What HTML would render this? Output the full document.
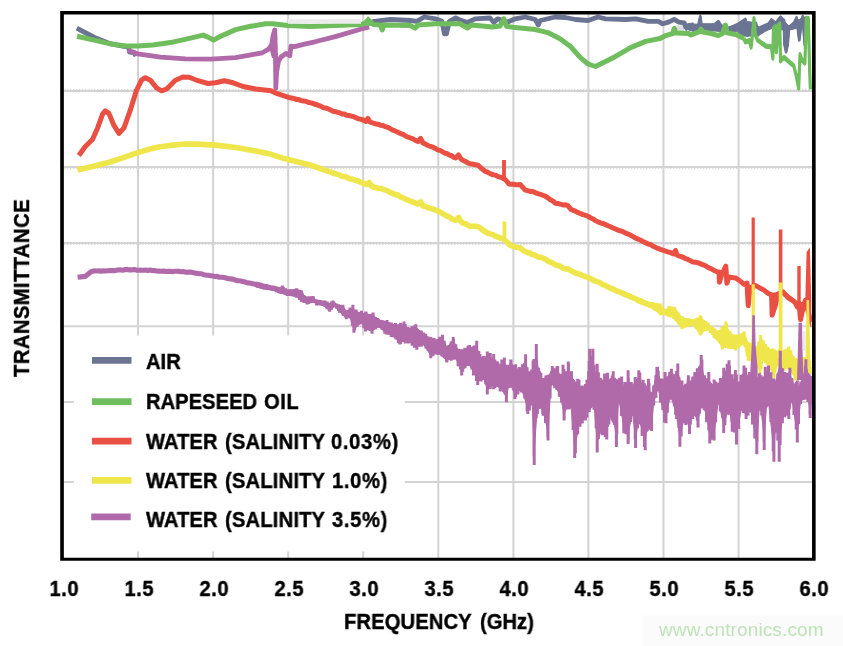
<!DOCTYPE html><html><head><meta charset="utf-8"><title>Transmittance vs Frequency</title><style>
html,body{margin:0;padding:0;background:#fff;}
body{width:843px;height:646px;position:relative;overflow:hidden;font-family:"Liberation Sans",sans-serif;color:#000;}
.t,.wm{will-change:transform;}
.t{position:absolute;font-weight:bold;font-size:21.2px;line-height:20px;white-space:nowrap;transform:scaleX(0.953);transform-origin:0 0;-webkit-text-stroke:0.4px #000;}
.tick{width:60px;text-align:center;top:579.1px;letter-spacing:0.5px;text-indent:0.5px;transform-origin:50% 0;}
.wm{position:absolute;font-size:19px;letter-spacing:0.12px;line-height:20px;color:#bfe3b8;white-space:nowrap;left:659px;top:620.2px;}
</style></head><body>
<svg width="843" height="646" viewBox="0 0 843 646" style="position:absolute;left:0;top:0">
<rect x="0" y="0" width="843" height="646" fill="#fff"/>
<rect x="642.5" y="615.3" width="201" height="31" fill="#fbfbfb"/>
<line x1="138.0" y1="13" x2="138.0" y2="559" stroke="#d3d3d3" stroke-width="2"/>
<line x1="213.1" y1="13" x2="213.1" y2="559" stroke="#d3d3d3" stroke-width="2"/>
<line x1="288.2" y1="13" x2="288.2" y2="559" stroke="#d3d3d3" stroke-width="2"/>
<line x1="363.2" y1="13" x2="363.2" y2="559" stroke="#d3d3d3" stroke-width="2"/>
<line x1="438.3" y1="13" x2="438.3" y2="559" stroke="#d3d3d3" stroke-width="2"/>
<line x1="513.4" y1="13" x2="513.4" y2="559" stroke="#d3d3d3" stroke-width="2"/>
<line x1="588.4" y1="13" x2="588.4" y2="559" stroke="#d3d3d3" stroke-width="2"/>
<line x1="663.5" y1="13" x2="663.5" y2="559" stroke="#d3d3d3" stroke-width="2"/>
<line x1="738.6" y1="13" x2="738.6" y2="559" stroke="#d3d3d3" stroke-width="2"/>
<line x1="62" y1="91" x2="814" y2="91" stroke="#d3d3d3" stroke-width="2"/>
<line x1="62" y1="167" x2="814" y2="167" stroke="#d3d3d3" stroke-width="2"/>
<line x1="62" y1="243.1" x2="814" y2="243.1" stroke="#d3d3d3" stroke-width="2"/>
<line x1="62" y1="326.2" x2="814" y2="326.2" stroke="#d3d3d3" stroke-width="2"/>
<line x1="62" y1="402" x2="814" y2="402" stroke="#d3d3d3" stroke-width="2"/>
<line x1="62" y1="482.1" x2="814" y2="482.1" stroke="#d3d3d3" stroke-width="2"/>
<line x1="64" y1="89.5" x2="812" y2="89.5" stroke="#dedede" stroke-width="1" stroke-dasharray="1.5 1.5"/>
<line x1="64" y1="168.5" x2="812" y2="168.5" stroke="#dedede" stroke-width="1" stroke-dasharray="1.5 1.5"/>
<line x1="64" y1="244.6" x2="812" y2="244.6" stroke="#dedede" stroke-width="1" stroke-dasharray="1.5 1.5"/>
<rect x="675" y="25.5" width="9" height="6" fill="#dcdcdc"/>
<rect x="74" y="335.5" width="331" height="216" fill="#fff"/>
<g transform="scale(1.0,1)"><polyline points="76.8,28.2 85.0,32.5 96.4,38.3 110.2,43.7 124.0,46.3 128.5,47.0 129.5,52.0 134.0,52.5 136.0,56.0" fill="none" stroke="#6b7492" stroke-width="4.8" stroke-linejoin="round" stroke-linecap="butt" /></g>
<g transform="scale(1.0,1)"><polyline points="372.0,22.0 374.1,21.3 390.5,19.5 410.5,20.5 416.8,21.3 424.3,17.0 435.6,18.8 441.9,21.3 444.4,33.8 446.5,33.8 449.4,21.3 455.7,18.0 460.0,20.0 467.5,22.5 475.0,18.8 490.0,18.0 493.9,22.5 497.6,18.8 507.7,22.0 515.2,18.8 525.2,17.0 535.3,19.5 538.3,25.0 540.3,20.5 555.3,17.0 565.4,17.5 575.4,19.5 588.0,20.5 598.0,17.0 605.5,18.8 625.6,19.5 635.6,18.8 648.2,21.3 658.2,21.3 662.7,23.8 668.5,22.1 674.2,19.3 678.5,22.1 684.2,22.8 686.3,28.5" fill="none" stroke="#6b7492" stroke-width="4.8" stroke-linejoin="round" stroke-linecap="butt" /></g>
<g transform="scale(0.62,1)"><polyline points="1103.5,22.8 1106.9,28.5 1110.5,25.7 1117.3,24.9 1119.7,29.9 1126.5,25.7 1129.5,17.1 1131.1,25.7 1151.8,25.7 1158.7,22.1 1165.5,28.5 1174.7,29.2 1188.5,25.7 1202.3,20.0 1205.6,34.2 1210.5,34.2 1213.7,24.2 1219.4,24.0 1222.9,34.2 1225.2,28.5 1239.7,24.6 1244.2,20.4 1251.0,23.9 1258.9,17.7 1264.5,21.1 1265.6,44.8 1267.9,51.1 1270.2,44.8 1272.3,28.1 1280.2,23.9 1284.7,18.4 1286.9,28.1 1289.2,39.3 1291.3,28.1 1294.8,17.0 1298.2,44.8 1300.8,18.0" fill="none" stroke="#6b7492" stroke-width="4.8" stroke-linejoin="round" stroke-linecap="butt" /></g>
<polygon points="683.0,21.0 687.0,24.0 698.9,24.2 699.6,17.2 701.2,17.2 701.9,24.2 714.0,24.2 718.4,21.0 721.0,24.5 728.0,27.3 736.9,25.0 745.0,19.5 747.5,21.5 751.0,22.0 756.0,24.0 760.0,28.0 768.6,23.5 771.4,20.2 775.6,23.5 780.5,17.5 784.0,20.8 788.8,26.0 793.7,23.5 796.5,18.2 799.0,20.0 802.8,16.8 806.0,17.5 806.0,30.0 805.6,44.8 804.2,44.8 803.0,25.0 801.2,28.0 799.9,39.3 798.7,39.3 797.5,28.0 794.0,29.0 789.6,30.0 788.0,45.0 786.7,51.1 785.5,51.1 784.2,45.0 783.4,30.0 778.0,29.0 771.4,28.5 765.0,31.5 760.3,34.6 757.0,36.0 751.0,35.5 747.0,36.4 743.0,35.5 737.0,31.6 728.0,31.6 722.0,31.6 714.0,31.0 700.0,30.8 694.0,31.6 690.0,30.5 686.0,29.0 683.0,25.0" fill="#6b7492" stroke="#6b7492" stroke-width="1" stroke-linejoin="miter"/>
<g transform="scale(1.0,1)"><polyline points="127.7,50.1 137.8,53.9 160.4,57.2 185.4,58.9 210.5,59.2 235.6,57.7 255.0,54.2 262.4,52.8 268.6,49.1 271.7,44.8 273.0,36.0 274.8,30.0 275.6,57.0 275.8,88.0 276.6,72.0 278.5,61.0 281.0,57.0 286.0,53.4 289.8,55.7 291.0,46.2 294.6,46.6 304.5,44.1 315.0,41.8 335.3,36.6 360.4,29.2 369.2,27.0" fill="none" stroke="#b06aaa" stroke-width="4.8" stroke-linejoin="round" stroke-linecap="butt" /></g>
<polygon points="269.0,47.0 271.2,42.0 272.2,32.4 273.4,28.0 276.3,28.0 276.6,58.0 272.0,58.0" fill="#b06aaa"/>
<polygon points="273.6,56.0 276.6,56.0 278.2,60.0 281.0,57.0 279.6,63.0 278.2,69.0 277.5,89.5 274.4,89.5 273.8,70.0" fill="#b06aaa"/>
<g transform="scale(1.0,1)"><polyline points="77.0,36.2 96.4,40.6 110.2,43.9 126.5,45.9 137.8,45.9 152.8,45.1 170.4,42.6 190.5,38.1 203.0,35.1 208.0,37.1 213.5,40.1 220.6,36.3 235.6,29.6 250.7,26.3 265.7,23.8 272.5,23.8 287.6,25.6 310.2,26.6 335.3,25.4 360.4,24.6 364.5,23.6 367.7,20.5 371.0,22.5 373.5,24.5 380.4,25.1 382.2,30.0 384.0,25.1 410.5,25.6 415.0,28.1 418.1,25.1 435.6,23.8 460.0,23.8 467.5,28.0 471.3,25.0 492.6,27.0 500.0,26.0 503.9,18.8 506.4,26.3 515.2,27.6 535.3,29.6 547.8,32.6 560.4,38.9 570.4,46.4 580.4,57.7 588.0,64.0 595.5,66.5 603.0,62.7 615.5,56.4 630.6,47.6 645.7,41.4 660.0,38.5 665.7,35.6 672.8,33.5 674.2,28.5 676.0,33.0 688.5,33.5 691.0,35.0 699.9,31.4 700.8,29.0 703.0,32.0 711.2,33.5 718.4,35.6 722.5,33.5 725.5,25.0 726.9,32.8 736.9,34.9 744.0,38.5" fill="none" stroke="#6fbd5c" stroke-width="5.0" stroke-linejoin="round" stroke-linecap="butt" /></g>
<g transform="scale(0.62,1)"><polyline points="1200.0,38.5 1202.3,42.0 1208.1,40.5 1211.5,47.0 1213.7,34.2 1216.1,18.5 1218.4,35.1 1221.8,40.0 1235.3,46.2 1244.2,46.9 1246.5,58.1 1247.6,28.1 1251.0,26.7 1252.1,51.8 1255.5,25.3 1257.7,23.9 1258.9,60.8 1264.5,57.4 1280.2,65.7 1284.7,76.9 1288.1,88.0 1290.3,54.6 1293.7,60.2 1298.2,62.9 1300.5,18.4 1303.7,18.4 1306.0,72.7 1307.1,89.4" fill="none" stroke="#6fbd5c" stroke-width="5.2" stroke-linejoin="round" stroke-linecap="butt" /></g>
<polygon points="363.6,24 367.5,16.4 368.4,16.4 373.8,22 373.8,26 363.6,26" fill="#6fbd5c"/>
<rect x="288" y="19.2" width="73" height="4.6" fill="#ececec"/>
<g transform="scale(1.0,1)"><polyline points="78.8,155.5 85.1,146.7 92.6,139.2 97.6,127.9 102.6,114.1 105.2,110.9 108.9,113.4 113.9,125.4 119.0,133.4 124.0,127.9 130.2,110.4 136.5,90.3 141.5,80.2 145.3,77.7 150.3,80.2 156.6,87.8 161.6,90.8 166.6,89.0 175.4,80.2 182.9,77.0 189.2,77.2 198.0,80.7 208.0,83.5 215.5,82.8 224.3,80.7 233.1,82.8 243.1,86.5 255.7,89.0 271.0,90.8 275.1,92.8 290.1,97.8 292.3,98.2 294.6,98.6 296.8,99.6 299.0,99.6 301.3,100.6 303.5,101.0 305.7,101.3 308.0,102.3 310.2,102.8 312.5,103.2 314.8,104.3 317.0,104.8 319.3,105.6 321.6,106.7 323.9,107.9 326.2,108.1 328.5,109.0 330.7,110.1 333.0,111.2 335.3,111.6 337.6,112.4 339.9,112.9 342.1,114.1 344.4,113.9 346.7,115.3 349.0,115.5 351.3,116.1 353.6,116.7 355.8,117.6 358.1,118.7 360.4,119.1 363.2,120.0 366.0,121.5 367.9,118.5 370.0,122.0 372.6,122.9 375.1,123.7 377.7,124.2 380.3,125.2 382.8,125.5 385.4,126.7 387.7,127.3 390.0,128.5 392.2,129.9 394.5,130.7 396.8,131.7 399.1,132.9 401.4,133.8 403.7,134.7 405.9,136.2 408.2,137.2 410.5,138.0 413.0,138.9 415.5,140.4 418.0,141.5 420.6,138.5 423.0,143.0 425.5,144.1 428.0,145.5 430.6,146.5 433.1,147.2 435.6,148.5 437.8,150.0 440.1,150.3 442.3,151.6 444.5,153.0 446.8,153.5 449.0,154.8 451.2,155.5 453.5,157.1 455.7,158.0 458.5,155.0 461.0,159.0 463.2,160.4 465.5,161.5 467.8,162.9 470.0,163.8 472.5,164.0 475.1,164.8 477.6,165.0 480.1,167.2 482.6,169.3 485.1,171.3 487.6,172.2 490.1,173.5 492.6,174.6 495.1,175.1 497.6,176.3 500.1,177.1 504.0,178.5 506.4,180.8 508.9,183.9 511.2,184.2 513.4,184.3 515.7,184.8 517.9,184.7 520.2,184.6 522.7,187.2 525.2,190.1 527.7,190.6 530.2,191.5 532.8,191.5 535.3,192.6 537.8,193.6 540.3,194.3 542.8,195.3 545.3,196.3 547.8,197.7 550.3,199.8 552.8,201.0 555.3,203.2 557.8,203.5 560.3,204.1 562.9,205.0 565.4,204.8 567.9,205.7 571.0,209.5 573.4,210.4 575.8,211.4 578.2,212.7 580.6,213.6 583.0,214.6 585.4,215.2 587.9,216.3 590.4,217.7 593.0,218.9 595.5,220.6 598.0,221.9 600.5,222.8 603.0,223.5 605.5,224.6 608.0,225.7 610.5,226.7 613.0,228.0 615.5,229.0 618.0,230.1 620.5,230.9 623.0,231.7 625.6,233.1 628.1,234.1 630.6,235.3 633.1,236.6 635.6,238.2 638.2,239.2 640.7,240.3 643.2,241.7 645.7,242.8 648.1,244.0 650.6,244.5 653.0,246.3 655.5,247.3 657.9,248.4 660.4,249.4 662.8,250.2 665.5,251.1 668.1,252.0 670.8,252.7 673.5,254.0 675.5,250.5 677.0,255.0 679.2,256.1 681.5,256.6 683.7,257.6 686.0,258.7 688.2,259.6 690.5,260.8 692.7,261.9 695.5,262.2 698.4,262.9 701.2,264.1 703.8,265.1 706.4,266.3 708.9,267.8 711.5,268.8 714.1,270.5 716.5,271.6 719.0,272.0 719.4,282.2 721.5,275.0 725.8,266.2 726.9,283.3 729.0,276.9 732.2,277.5 735.4,277.9 738.3,279.7 741.1,281.9 744.0,284.3 747.0,283.0 748.2,305.7 750.0,288.0 752.5,286.6 755.1,285.4 758.0,286.9 761.0,288.6 763.7,289.9 766.4,292.1 769.0,293.8 771.7,295.0 772.1,315.3 775.5,305.0 778.0,294.0 780.4,292.9 782.8,291.8 785.8,295.0 788.8,298.2 792.0,300.0 795.2,302.5 797.3,307.0 799.0,303.0 800.5,319.6 803.5,306.0 805.5,300.0 808.0,310.6 810.6,322.0" fill="none" stroke="#e94f42" stroke-width="5.0" stroke-linejoin="round" stroke-linecap="butt" /></g>
<line x1="753.2" y1="217.5" x2="753.2" y2="290" stroke="#e94f42" stroke-width="3.2"/>
<line x1="780.6" y1="229.5" x2="780.6" y2="296" stroke="#e94f42" stroke-width="3.6"/>
<line x1="799" y1="266" x2="799" y2="306" stroke="#e94f42" stroke-width="3.4"/>
<line x1="504" y1="160" x2="504" y2="181" stroke="#e94f42" stroke-width="3.8"/>
<polygon points="746.3,282.0 751.0,286.0 749.6,300.0 748.6,306.0 747.6,306.0 746.8,300.0" fill="#e94f42"/>
<polygon points="769.0,293.0 779.0,292.0 777.0,303.0 774.0,312.0 773.0,316.0 771.3,316.0 770.3,306.0" fill="#e94f42"/>
<polygon points="796.0,302.0 804.5,302.0 803.0,311.0 801.3,320.0 799.6,320.0 798.3,311.0" fill="#e94f42"/>
<polygon points="783.0,290.0 796.0,300.0 796.0,306.0 783.0,296.0" fill="#e94f42"/>
<polygon points="805.2,304 806.6,252 809.9,247.5 811.2,300 811.2,328 808.5,322" fill="#e94f42"/>
<g transform="scale(1.0,1)"><polyline points="77.4,170.0 92.6,166.5 110.2,162.0 124.0,157.3 137.8,152.6 150.0,149.0 160.0,146.8 170.0,145.4 185.4,144.0 196.7,144.1 215.5,145.1 235.6,147.5 255.7,151.0 271.0,154.3 285.1,158.8 310.2,165.0 335.3,173.8 337.6,174.4 339.9,175.1 342.1,176.4 344.4,176.5 346.7,177.1 349.0,178.8 351.3,179.1 353.6,179.5 355.8,180.6 358.1,180.9 360.4,182.1 363.4,183.3 366.5,184.5 369.1,182.4 371.5,186.0 373.8,187.2 376.1,187.7 378.4,188.2 380.8,188.5 383.1,189.3 385.4,190.1 387.6,190.7 389.8,192.3 392.0,193.0 394.2,194.2 396.4,194.7 398.6,195.5 400.8,197.1 403.0,197.7 405.5,199.2 408.0,200.2 410.5,201.2 413.0,202.2 415.5,203.2 418.0,204.0 420.6,202.0 423.0,206.0 425.5,206.6 428.0,207.7 430.6,208.4 433.1,208.9 435.6,210.2 437.8,210.8 440.1,212.2 442.3,213.3 444.5,214.8 446.8,216.2 449.0,216.8 451.2,218.4 453.5,219.6 455.7,220.2 458.5,217.5 461.0,221.5 463.2,223.2 465.5,223.9 467.8,225.0 470.0,226.5 472.5,226.2 475.1,226.2 477.6,226.5 480.1,227.9 482.6,230.0 485.1,231.5 487.6,233.0 490.1,233.9 492.6,234.6 495.1,235.9 497.6,237.0 500.1,237.8 504.3,239.5 507.2,242.0 510.2,245.3 512.7,246.1 515.2,247.0 517.7,247.5 520.2,247.8 522.7,250.0 525.2,251.6 527.4,252.4 529.7,252.9 531.9,254.4 534.1,254.8 536.4,256.1 538.6,257.1 540.8,257.3 543.1,258.2 545.3,259.1 547.8,261.0 550.3,262.2 552.8,263.1 555.3,264.9 557.8,265.4 560.3,266.4 562.8,268.1 565.4,268.9 567.9,269.1 570.4,270.4 572.9,271.8 575.4,273.0 577.9,273.7 580.4,274.5 582.9,275.7 585.4,276.7 587.9,277.4 590.4,278.3 593.0,280.3 595.5,281.0 598.0,282.0 600.5,283.0 603.0,284.7 605.5,285.4 608.0,287.1 610.5,288.3 613.0,289.0 615.5,290.5 618.0,291.3 620.5,292.4 623.0,293.4 625.6,294.8 628.1,295.5 630.6,296.8 633.1,297.8 635.6,298.7 638.2,300.6 640.7,301.1 643.2,302.3 645.7,303.5 648.0,304.1 650.4,304.9 652.7,304.9 655.0,305.5" fill="none" stroke="#efe64b" stroke-width="5.6" stroke-linejoin="round" stroke-linecap="butt" /></g>
<path d="M600.0,281.0V284.7M602.3,282.4V285.8M604.6,283.8V286.9M606.9,284.8V287.7M609.2,285.6V289.0M611.5,286.9V290.4M613.8,287.9V291.3M616.1,289.0V292.5M618.4,289.8V293.2M620.7,290.8V294.3M623.0,291.9V295.6M625.3,292.7V296.4M627.6,293.5V297.7M629.9,294.6V298.4M632.2,295.4V299.5M634.5,296.2V300.7M636.8,297.2V301.9M639.1,297.7V303.3M641.4,298.7V304.5M643.7,300.3V305.0M646.0,300.7V306.1M648.3,302.4V306.4M650.6,302.9V307.4M652.9,303.5V308.8M655.2,303.4V311.1M657.5,303.3V311.7M659.8,303.9V314.0M662.1,306.9V315.3M664.4,309.1V315.2M666.7,308.4V315.7M669.0,306.8V316.9M671.3,306.6V316.0M673.6,307.7V318.9M675.9,309.8V320.7M678.2,312.8V324.3M680.5,316.3V326.6M682.8,317.6V327.0M685.1,318.3V327.6M687.4,318.6V326.1M689.7,318.6V326.5M692.0,319.3V325.2M694.3,319.6V326.6M696.6,317.7V329.4M698.9,318.3V332.3M701.2,316.4V334.3M703.5,320.1V331.3M705.8,320.9V330.9M708.1,323.4V329.6M710.4,326.1V333.0M712.7,327.5V334.8M715.0,328.6V338.4M717.3,330.7V340.5M719.6,329.9V343.1M721.9,327.0V346.6M724.2,326.2V347.8M726.5,323.5V346.8M728.8,331.3V348.4M731.1,334.0V347.7M733.4,335.4V347.9M735.7,336.3V348.7M738.0,335.1V348.3M740.3,334.2V346.3M742.6,333.5V344.6M744.9,335.7V346.8M747.2,342.0V356.6M749.5,343.2V358.8M751.8,343.5V361.2M754.1,345.9V362.7M756.4,347.4V363.6M758.7,341.4V368.3M761.0,338.4V369.0M763.3,340.3V359.2M765.6,344.8V363.4M767.9,346.7V365.5M770.2,349.2V367.5M772.5,351.7V371.6M774.8,349.6V372.5M777.1,351.4V365.8M779.4,349.7V366.6M781.7,350.0V367.4M784.0,350.7V369.1M786.3,349.1V367.7M788.6,348.2V367.2M790.9,350.2V373.1M793.2,355.8V374.5M795.5,358.0V378.1M797.8,359.8V376.7M800.1,359.3V376.9M802.4,358.6V374.6M804.7,358.0V369.2M807.0,358.5V361.0M809.3,360.3V368.9M600.0,281.0V283.0M615.5,288.5V290.5M630.6,294.5V296.8M640.0,298.0V301.0M650.0,302.4V305.1M660.7,303.5V309.4M665.0,310.0V313.0M669.0,306.0V311.5M674.6,306.7V313.8M682.0,316.3V322.7M692.7,319.5V322.7M700.2,315.2V325.4M707.7,322.7V326.4M718.3,331.2V337.3M725.8,321.6V335.6M730.0,331.2V340.6M735.4,334.5V342.5M744.0,331.2V338.1M748.2,341.9V351.5M753.0,342.0V352.2M756.8,346.2V355.8M760.6,335.1V353.7M765.3,344.1V354.0M772.8,348.3V362.2M780.5,349.4V358.8M788.8,346.2V357.9M795.2,357.9V369.1M804.8,356.9V363.9M600.0,285.0V283.0M615.5,292.5V290.5M630.6,299.0V296.8M640.0,304.0V301.0M650.0,307.8V305.1M660.7,315.2V309.4M671.4,317.4V311.9M682.0,329.1V322.7M692.7,325.9V322.7M700.2,335.5V325.4M707.7,330.2V326.4M714.1,337.7V332.8M722.6,349.4V337.5M735.4,350.5V342.5M744.0,345.1V338.1M748.2,361.1V351.5M751.4,361.1V351.5M756.8,365.4V355.8M760.0,375.0V355.9M763.2,361.1V350.6M769.6,369.7V358.1M773.9,378.2V363.3M778.1,365.4V357.2M783.5,371.8V360.0M788.8,369.7V357.9M795.2,380.4V369.1M797.3,380.4V369.0M803.7,376.1V366.6M806.9,361.1V359.6M810.2,374.0V366.9" fill="none" stroke="#efe64b" stroke-width="3.0"/>
<polygon points="600.0,281.4 615.5,288.9 630.6,294.9 640.0,298.6 650.0,302.9 660.7,304.7 665.0,310.6 669.0,307.1 674.6,308.1 682.0,317.6 692.7,320.1 700.2,317.2 707.7,323.4 718.3,332.4 725.8,324.4 730.0,333.1 735.4,336.1 744.0,332.6 748.2,343.8 753.0,344.0 756.8,348.1 760.6,338.8 765.3,346.1 772.8,351.1 780.5,351.3 788.8,348.6 795.2,360.1 804.8,358.3 810.6,361.4 810.2,372.6 806.9,360.8 803.7,374.2 797.3,378.1 795.2,378.1 788.8,367.3 783.5,369.4 778.1,363.8 773.9,375.2 769.6,367.4 763.2,359.0 760.0,371.2 756.8,363.5 751.4,359.2 748.2,359.2 744.0,343.7 735.4,348.9 722.6,347.0 714.1,336.7 707.7,329.4 700.2,333.5 692.7,325.3 682.0,327.8 671.4,316.3 660.7,314.0 650.0,307.3 640.0,303.4 630.6,298.6 615.5,292.1 600.0,284.6" fill="#efe64b" stroke="#efe64b" stroke-width="1" stroke-linejoin="miter"/>
<line x1="753.2" y1="284.3" x2="753.2" y2="345" stroke="#efe64b" stroke-width="3.2"/>
<line x1="780.6" y1="282.5" x2="780.6" y2="352" stroke="#efe64b" stroke-width="3.8"/>
<line x1="504.4" y1="221.5" x2="504.4" y2="242" stroke="#efe64b" stroke-width="3.8"/>
<polygon points="805.5,360 806.6,300 809,300 810.8,374 806,374" fill="#efe64b"/>
<g transform="scale(1.0,1)"><polyline points="77.6,277.2 85.1,276.4 91.4,271.4 93.8,270.9 96.1,271.0 98.5,270.9 100.8,271.1 103.2,270.9 105.5,271.0 107.8,270.8 110.2,270.6 112.7,270.6 115.2,270.6 117.7,270.0 120.2,269.8 122.7,270.2 125.2,269.6 127.4,269.4 129.7,269.9 131.9,269.9 134.1,269.5 136.4,270.1 138.6,270.2 140.8,270.1 143.1,270.2 145.3,270.1 147.6,270.5 149.9,270.0 152.1,270.5 154.4,270.6 156.7,271.0 159.0,271.1 161.3,271.2 163.6,271.1 165.8,271.5 168.1,271.4 170.4,271.4 172.6,271.6 174.9,271.3 177.1,271.3 179.3,271.4 181.6,271.7 183.8,271.6 186.0,272.2 188.3,272.1 190.5,272.1 192.7,272.6 194.9,273.0 197.2,273.4 199.4,273.7 201.6,273.7 203.8,274.7 206.1,275.1 208.3,275.3 210.5,275.7 212.7,276.1 215.0,276.5 217.2,276.4 219.4,277.3 221.7,277.3 223.9,277.5 226.1,278.0 228.4,278.7 230.6,278.9 232.8,279.1 235.1,280.0 237.3,280.7 239.5,280.8 241.8,281.2 244.0,281.7 246.2,282.4 248.5,282.9 250.7,283.2 253.0,283.8 255.2,284.3 257.5,284.4 259.7,284.9 262.0,285.5 264.2,286.4 266.5,286.5 268.7,287.3 271.0,287.7 273.4,288.0 275.7,288.7 278.1,289.5 280.4,290.5 282.8,291.2 285.1,291.7 287.6,292.2 290.1,292.3 292.6,292.8 295.1,293.1 297.6,293.5 300.3,294.7 303.0,296.0" fill="none" stroke="#b06aaa" stroke-width="5.1" stroke-linejoin="round" stroke-linecap="butt" /></g>
<path d="M258.0,283.6V287.9M260.3,284.0V288.6M262.6,284.0V288.4M264.9,285.0V289.5M267.2,285.1V289.6M269.5,286.2V289.9M271.8,286.2V290.3M274.1,287.0V290.8M276.4,287.7V292.3M278.7,288.2V293.0M281.0,286.9V293.8M283.3,286.8V293.7M285.6,288.2V294.9M287.9,290.4V295.0M290.2,289.6V295.9M292.5,289.6V295.8M294.8,289.4V296.4M297.1,288.7V296.7M299.4,289.8V299.9M301.7,292.3V301.9M304.0,295.1V302.9M306.3,296.9V303.2M308.6,296.8V304.1M310.9,296.5V302.8M313.2,296.8V302.2M315.5,299.3V303.2M317.8,299.7V304.9M320.1,300.0V305.1M322.4,300.9V305.5M324.7,301.4V306.8M327.0,301.6V309.3M329.3,302.8V310.9M331.6,301.6V309.8M333.9,301.8V307.2M336.2,304.2V308.5M338.5,304.6V311.1M340.8,304.9V312.8M343.1,306.8V316.0M345.4,310.1V317.6M347.7,310.1V317.9M350.0,307.6V318.5M352.3,307.8V325.7M354.6,310.0V330.2M356.9,311.5V326.7M359.2,312.3V324.6M361.5,310.8V323.3M363.8,313.2V328.2M366.1,311.5V330.0M368.4,314.6V329.9M370.7,315.2V331.1M373.0,315.4V330.3M375.3,317.0V329.4M377.6,318.0V327.8M379.9,319.9V328.0M382.2,320.2V330.0M384.5,321.1V331.4M386.8,321.6V334.7M389.1,322.8V334.7M391.4,322.5V336.8M393.7,324.5V337.2M396.0,325.2V339.4M398.3,324.4V343.0M400.6,322.7V343.9M402.9,325.3V340.6M405.2,323.9V343.5M407.5,326.9V342.3M409.8,330.0V342.8M412.1,326.3V345.7M414.4,325.4V347.8M416.7,328.1V346.2M419.0,330.2V346.8M421.3,330.6V346.7M423.6,332.6V345.2M425.9,334.6V348.6M428.2,336.5V351.0M430.5,337.0V355.1M432.8,337.7V356.3M435.1,339.7V353.8M437.4,339.0V354.4M439.7,336.8V353.5M442.0,338.5V356.6M444.3,340.7V358.3M446.6,347.2V361.3M448.9,345.7V359.7M451.2,341.5V360.8M453.5,338.9V359.7M455.8,344.2V358.5M458.1,350.1V366.3M460.4,349.2V369.5M462.7,351.5V371.8M465.0,347.8V368.2M467.3,348.3V365.9M469.6,345.0V365.5M471.9,347.9V369.5M474.2,345.4V375.2M476.5,346.2V380.9M478.8,351.0V381.2M481.1,357.2V381.5M483.4,355.9V380.0M485.7,356.6V384.3M488.0,353.4V389.3M490.3,353.0V388.9M492.6,358.4V385.7M494.9,359.6V387.9M497.2,361.3V386.4M499.5,364.3V387.4M501.8,359.6V389.4M504.1,363.7V392.1M506.4,365.1V401.5M508.7,364.8V388.1M511.0,359.8V387.7M513.3,365.3V390.2M515.6,364.2V396.9M517.9,370.5V394.4M520.2,367.9V390.9M522.5,364.2V391.5M524.8,363.5V398.4M527.1,367.3V411.3M529.4,375.5V410.5M531.7,369.4V401.7M534.0,358.9V456.6M536.3,351.9V418.2M538.6,367.8V408.9M540.9,372.7V408.6M543.2,378.0V415.8M545.5,383.4V423.1M547.8,374.7V437.1M550.1,374.5V398.2M552.4,368.9V385.5M554.7,368.7V388.3M557.0,366.3V389.9M559.3,373.7V396.0M561.6,374.1V402.6M563.9,369.0V413.5M566.2,376.3V408.4M568.5,364.1V409.4M570.8,371.4V408.8M573.1,383.2V430.0M575.4,382.2V453.3M577.7,378.8V434.3M580.0,386.0V422.6M582.3,385.4V423.6M584.6,388.5V420.2M586.9,379.7V417.4M589.2,361.0V412.1M591.5,355.7V405.8M593.8,366.8V408.3M596.1,375.0V428.3M598.4,372.2V439.0M600.7,386.9V431.3M603.0,379.4V429.2M605.3,373.4V436.9M607.6,372.8V426.7M609.9,379.7V416.6M612.2,375.6V420.6M614.5,377.8V425.1M616.8,380.8V434.5M619.1,378.6V403.6M621.4,377.8V416.1M623.7,387.2V430.7M626.0,384.7V434.3M628.3,378.1V439.6M630.6,385.5V421.9M632.9,384.4V415.5M635.2,377.1V439.5M637.5,378.9V428.2M639.8,372.5V424.2M642.1,385.0V436.0M644.4,383.3V447.0M646.7,387.3V431.7M649.0,382.7V429.7M651.3,391.8V424.9M653.6,385.6V403.3M655.9,375.2V397.7M658.2,370.7V391.3M660.5,380.2V402.5M662.8,378.7V409.9M665.1,373.8V422.4M667.4,377.2V412.8M669.7,371.7V398.9M672.0,373.3V399.8M674.3,378.5V406.6M676.6,371.0V419.1M678.9,377.1V428.0M681.2,384.1V436.5M683.5,385.6V421.9M685.8,383.7V424.9M688.1,379.5V422.8M690.4,382.2V424.4M692.7,376.4V416.3M695.0,378.9V415.8M697.3,368.3V420.6M699.6,366.2V413.6M701.9,359.6V404.5M704.2,376.2V410.2M706.5,378.2V420.8M708.8,372.2V430.3M711.1,384.0V439.7M713.4,386.5V431.0M715.7,381.4V422.3M718.0,383.2V404.3M720.3,377.9V411.5M722.6,378.4V418.2M724.9,370.6V425.2M727.2,363.7V412.4M729.5,365.8V411.8M731.8,377.0V421.8M734.1,379.2V432.4M736.4,374.4V434.2M738.7,385.3V428.9M741.0,374.7V410.4M743.3,374.1V413.0M745.6,367.7V413.8M747.9,377.3V415.8M750.2,375.2V412.3M752.5,372.3V424.6M754.8,376.5V438.6M757.1,378.2V441.6M759.4,373.3V410.6M761.7,380.0V415.4M764.0,376.8V441.7M766.3,371.1V407.5M768.6,370.9V405.9M770.9,372.3V422.0M773.2,382.2V451.6M775.5,381.1V432.4M777.8,373.4V440.4M780.1,358.7V445.0M782.4,368.2V417.6M784.7,375.2V417.2M787.0,372.8V415.8M789.3,372.6V408.8M791.6,378.1V401.8M793.9,383.7V415.0M796.2,382.0V429.4M798.5,386.0V424.0M800.8,381.5V400.3M803.1,376.8V399.0M805.4,365.5V399.4M807.7,372.9V400.0M810.0,381.0V414.7M260.0,283.3V285.9M266.5,284.9V287.4M278.2,287.7V290.3M282.3,285.6V290.0M287.3,289.4V292.7M296.4,288.2V292.9M301.4,290.2V296.0M304.7,296.0V299.7M313.0,296.0V299.5M316.4,299.4V302.4M324.7,300.5V304.0M329.7,302.7V307.2M333.0,300.5V304.5M336.3,303.5V306.2M342.9,304.8V310.4M346.3,310.2V314.8M352.9,304.8V316.9M356.2,309.5V319.8M365.6,311.4V321.5M373.0,312.4V322.6M378.4,318.8V323.1M387.0,319.9V327.4M395.5,323.1V331.9M404.0,321.6V332.8M409.4,327.4V335.8M415.8,324.2V336.6M425.4,333.8V341.4M434.0,338.0V347.5M442.5,334.8V346.8M446.8,345.5V354.1M453.2,337.0V348.6M458.5,348.7V358.0M468.1,345.5V355.6M476.7,340.8V361.8M479.9,354.1V368.5M487.3,351.5V373.1M493.7,354.1V371.7M498.0,362.6V376.6M504.3,357.4V378.0M508.5,364.8V377.5M510.7,359.5V373.3M519.2,367.0V380.9M525.6,354.2V380.4M528.8,371.2V391.6M533.1,360.6V397.9M536.3,343.9V387.7M539.5,371.2V392.6M545.9,375.5V402.8M552.3,365.9V375.8M557.7,365.9V379.8M560.9,375.5V389.2M563.0,364.8V389.6M566.2,371.2V393.3M568.3,361.6V386.1M571.5,371.2V394.6M579.0,379.8V406.2M585.4,384.1V402.2M588.6,371.2V393.8M589.7,348.8V381.9M592.9,348.8V379.9M594.0,364.8V387.2M597.2,363.8V408.1M600.4,377.7V409.9M604.6,373.4V405.4M613.2,371.2V396.9M619.6,377.7V392.7M621.7,376.6V398.4M624.9,381.9V408.8M628.1,370.2V407.0M631.3,381.9V402.6M638.8,370.2V397.4M643.1,379.8V410.8M648.4,378.7V404.9M651.6,392.6V411.8M656.9,367.0V380.7M657.5,366.7V379.5M660.7,378.4V391.2M665.0,372.0V397.4M671.4,368.8V385.8M674.6,374.2V393.0M677.8,363.5V397.3M682.0,380.6V408.0M688.4,375.2V403.5M694.8,372.0V397.2M701.2,354.9V384.1M704.5,375.2V395.3M708.7,372.0V404.1M714.1,379.5V409.9M718.3,382.7V393.4M723.7,367.8V400.4M729.0,360.3V387.5M732.2,374.2V403.0M735.4,369.9V405.6M738.6,381.6V406.3M744.0,365.6V390.2M749.3,372.0V393.1M755.7,365.6V406.3M761.0,375.2V394.3M765.3,366.7V399.0M768.5,365.6V386.2M773.9,378.4V420.0M780.3,350.7V399.6M784.5,372.0V396.9M789.9,367.8V390.5M792.0,378.4V390.1M797.3,380.6V411.6M802.7,376.3V389.8M805.9,359.2V380.8M809.1,374.2V392.0M811.5,376.0V390.0M263.2,289.4V286.7M273.2,291.1V288.8M279.8,293.6V290.2M287.3,296.0V292.7M296.4,297.7V292.9M301.4,301.9V296.0M307.2,304.4V300.2M314.7,302.7V300.2M316.4,305.5V302.4M323.0,306.0V303.1M329.7,311.8V307.2M334.6,306.8V304.4M339.6,312.7V308.4M346.3,319.3V314.8M350.0,318.5V312.8M353.9,332.7V319.5M361.4,324.2V317.4M365.6,331.6V321.5M372.0,333.8V323.0M378.4,327.4V323.1M384.8,333.8V326.7M391.2,337.0V329.2M399.8,344.5V333.4M408.3,343.4V334.8M416.9,349.8V337.5M423.3,345.5V338.6M430.8,358.3V347.4M438.2,355.1V345.8M446.8,362.6V354.1M455.3,359.4V350.5M461.7,375.4V361.5M468.1,365.8V355.6M473.5,375.4V359.0M477.7,385.0V365.0M483.1,379.7V366.3M487.3,394.6V373.1M493.7,389.3V371.7M500.2,391.4V376.1M506.4,402.2V381.6M509.6,384.0V373.1M514.9,399.0V381.1M521.4,392.6V377.6M527.8,414.0V389.9M532.0,405.4V384.4M534.2,465.0V409.9M537.4,414.0V383.6M542.7,414.0V393.7M548.0,440.6V406.5M551.2,384.0V375.8M559.8,396.9V384.5M564.1,420.4V393.7M570.5,405.4V386.8M574.7,458.0V416.4M580.0,426.8V403.6M585.4,420.4V402.2M594.0,409.7V387.2M597.2,452.4V408.1M602.5,435.3V405.4M606.8,439.6V406.2M608.9,424.6V398.5M613.2,422.5V396.9M616.4,447.1V410.8M618.5,401.1V388.8M623.9,433.2V406.7M628.1,443.9V407.0M632.4,416.1V398.1M635.6,448.1V411.6M638.8,424.6V397.4M645.2,450.3V414.8M647.3,431.0V405.0M651.6,431.0V411.8M653.7,405.4V393.9M658.0,390.5V379.5M664.4,422.5V397.7M666.0,423.3V397.4M670.3,399.8V384.6M675.6,414.7V392.8M679.9,446.8V409.4M684.2,423.3V401.0M689.5,434.0V404.3M692.7,419.0V396.0M698.0,427.5V395.5M702.3,408.3V385.0M706.6,422.2V397.9M709.8,443.6V408.6M714.1,440.4V409.9M718.3,404.0V393.4M723.7,432.9V400.4M729.0,414.7V387.5M732.2,431.8V403.0M736.5,444.6V409.3M741.8,410.5V391.3M746.1,419.0V393.6M750.4,412.6V391.8M756.8,454.2V410.9M760.0,401.9V387.6M764.2,450.0V409.4M767.4,395.5V380.7M773.9,461.7V420.0M776.0,425.4V397.4M779.2,461.7V408.6M782.4,423.3V392.3M788.8,419.0V393.8M792.0,401.9V390.1M797.3,442.5V411.6M800.5,404.0V391.0M808.0,401.9V385.5M810.2,417.9V396.5M811.5,404.0V390.0" fill="none" stroke="#b06aaa" stroke-width="3.0"/>
<polygon points="255.0,282.9 260.0,284.0 266.5,285.5 278.2,288.4 282.3,286.7 287.3,290.2 296.4,289.4 301.4,291.7 304.7,296.9 313.0,296.9 316.4,300.2 324.7,301.4 329.7,303.8 333.0,301.5 336.3,304.2 342.9,306.2 346.3,311.3 352.9,307.8 356.2,312.1 365.6,313.9 373.0,314.9 378.4,319.9 387.0,321.8 395.5,325.3 404.0,324.4 409.4,329.5 415.8,327.3 425.4,335.7 434.0,340.4 442.5,337.8 446.8,347.6 453.2,339.9 458.5,351.0 468.1,348.0 476.7,346.0 479.9,357.7 487.3,356.9 493.7,358.5 498.0,366.1 504.3,362.5 508.5,368.0 510.7,363.0 519.2,370.5 525.6,360.8 528.8,376.3 533.1,369.9 536.3,354.9 539.5,376.6 545.9,382.3 552.3,368.4 557.7,369.4 560.9,378.9 563.0,371.0 566.2,376.7 568.3,367.7 571.5,377.0 579.0,386.4 585.4,388.6 588.6,376.9 589.7,357.1 592.9,356.6 594.0,370.4 597.2,374.9 600.4,385.7 604.6,381.4 613.2,377.6 619.6,381.4 621.7,382.0 624.9,388.6 628.1,379.4 631.3,387.1 638.8,377.0 643.1,387.6 648.4,385.2 651.6,397.4 656.9,370.4 657.5,369.9 660.7,381.6 665.0,378.3 671.4,373.1 674.6,378.9 677.8,372.0 682.0,387.4 688.4,382.3 694.8,378.3 701.2,362.2 704.5,380.2 708.7,380.0 714.1,387.1 718.3,385.4 723.7,375.9 729.0,367.1 732.2,381.4 735.4,378.8 738.6,387.8 744.0,371.8 749.3,377.3 755.7,375.8 761.0,380.0 765.3,374.8 768.5,370.7 773.9,388.8 780.3,362.9 784.5,378.2 789.9,373.5 792.0,381.3 797.3,388.3 802.7,379.7 805.9,364.6 809.1,378.7 811.5,379.5 811.5,400.5 810.2,412.5 808.0,397.8 800.5,400.8 797.3,434.8 792.0,399.0 788.8,412.7 782.4,415.6 779.2,448.4 776.0,418.4 773.9,451.3 767.4,391.8 764.2,439.9 760.0,398.3 756.8,443.4 750.4,407.4 746.1,412.6 741.8,405.7 736.5,435.8 732.2,424.6 729.0,407.9 723.7,424.8 718.3,401.3 714.1,432.8 709.8,434.8 706.6,416.1 702.3,402.5 698.0,419.5 692.7,413.3 689.5,426.6 684.2,417.7 679.9,437.5 675.6,409.2 670.3,396.0 666.0,416.8 664.4,416.3 658.0,387.8 653.7,402.5 651.6,426.2 647.3,424.5 645.2,441.4 638.8,417.8 635.6,439.0 632.4,411.6 628.1,434.7 623.9,426.6 618.5,398.0 616.4,438.0 613.2,416.1 608.9,418.1 606.8,431.3 602.5,427.8 597.2,441.3 594.0,404.1 585.4,415.9 580.0,421.0 574.7,447.6 570.5,400.8 564.1,413.7 559.8,393.8 551.2,381.9 548.0,432.1 542.7,408.9 537.4,406.4 534.2,451.2 532.0,400.1 527.8,408.0 521.4,388.9 514.9,394.5 509.6,381.3 506.4,397.1 500.2,387.6 493.7,384.9 487.3,389.2 483.1,376.4 477.7,380.0 473.5,371.3 468.1,363.3 461.7,371.9 455.3,357.2 446.8,360.5 438.2,352.8 430.8,355.6 423.3,343.8 416.9,346.7 408.3,341.3 399.8,341.7 391.2,335.1 384.8,332.0 378.4,326.3 372.0,331.1 365.6,329.1 361.4,322.5 353.9,329.4 350.0,317.1 346.3,318.2 339.6,311.6 334.6,306.2 329.7,310.7 323.0,305.3 316.4,304.7 314.7,302.1 307.2,303.3 301.4,300.4 296.4,296.5 287.3,295.2 279.8,292.8 273.2,290.5 263.2,288.7 255.0,286.6" fill="#b06aaa" stroke="#b06aaa" stroke-width="1" stroke-linejoin="miter"/>
<polygon points="752.3,315.3 754.9,315.3 755.6,345 757.5,368 757.5,380 750,380 750.5,368 751.8,345" fill="#b06aaa"/>
<polygon points="798.6,322.7 802,322.7 802.6,352 803.5,380 797,380 797.8,352" fill="#b06aaa"/>
<rect x="802.7" y="331" width="2.8" height="20" fill="#e9e9e9"/>
<path fill-rule="evenodd" fill="#000" d="M60.2,11H815.65V560.85H60.2Z M63.85,14.45H812.05V557.85H63.85Z"/>
<line x1="92" y1="360.4" x2="131.5" y2="360.4" stroke="#6b7492" stroke-width="6.8"/>
<line x1="92" y1="401.7" x2="131.5" y2="401.7" stroke="#6fbd5c" stroke-width="6.8"/>
<line x1="92" y1="441.2" x2="131.5" y2="441.2" stroke="#e94f42" stroke-width="6.8"/>
<line x1="92" y1="480.3" x2="131.5" y2="480.3" stroke="#efe64b" stroke-width="6.8"/>
<line x1="91.2" y1="516.8" x2="130.7" y2="516.8" stroke="#b06aaa" stroke-width="6.8"/>
</svg>
<div class="t tick" style="left:33.9px">1.0</div>
<div class="t tick" style="left:108.9px">1.5</div>
<div class="t tick" style="left:183.8px">2.0</div>
<div class="t tick" style="left:258.8px">2.5</div>
<div class="t tick" style="left:333.8px">3.0</div>
<div class="t tick" style="left:408.8px">3.5</div>
<div class="t tick" style="left:483.7px">4.0</div>
<div class="t tick" style="left:558.7px">4.5</div>
<div class="t tick" style="left:633.7px">5.0</div>
<div class="t tick" style="left:708.6px">5.5</div>
<div class="t tick" style="left:783.6px">6.0</div>
<div class="t" style="left:145.9px;top:351.8px;letter-spacing:0px">AIR</div>
<div class="t" style="left:146.3px;top:392.2px;letter-spacing:0px">RAPESEED</div>
<div class="t" style="left:264.0px;top:392.2px;letter-spacing:0.6px">OIL</div>
<div class="t" style="left:145.8px;top:431.8px;letter-spacing:0px">WATER</div>
<div class="t" style="left:225.3px;top:431.8px;letter-spacing:0.17px">(SALINITY</div>
<div class="t" style="left:331.3px;top:431.8px;letter-spacing:0.7px">0.03%)</div>
<div class="t" style="left:145.8px;top:471.0px;letter-spacing:0px">WATER</div>
<div class="t" style="left:225.3px;top:471.0px;letter-spacing:0.17px">(SALINITY</div>
<div class="t" style="left:331.5px;top:471.0px;letter-spacing:0.7px">1.0%)</div>
<div class="t" style="left:145.8px;top:510.3px;letter-spacing:0px">WATER</div>
<div class="t" style="left:225.3px;top:510.3px;letter-spacing:0.17px">(SALINITY</div>
<div class="t" style="left:331.5px;top:510.3px;letter-spacing:0.7px">3.5%)</div>
<div class="t" style="left:343.6px;top:612.2px;letter-spacing:0.12px">FREQUENCY</div>
<div class="t" style="left:479.6px;top:612.2px;letter-spacing:0px">(GHz)</div>
<div class="t" id="yt" style="left:21.8px;top:288.3px;transform:translate(-50%,-50%) rotate(-90deg) scaleX(0.953);transform-origin:50% 50%;letter-spacing:0.45px">TRANSMITTANCE</div>
<div class="wm">www.cntronics.com</div>
</body></html>
